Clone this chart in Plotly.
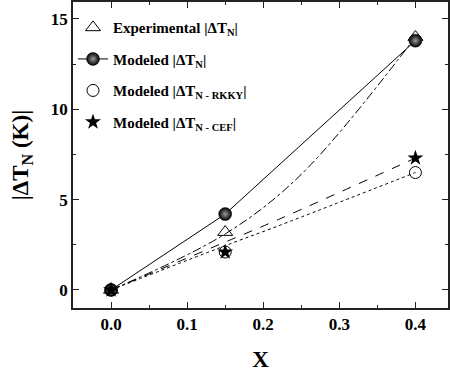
import plotly.graph_objects as go

x = [0.0, 0.15, 0.4]
exp_dtn = [0.0, 3.2, 14.0]
mod_dtn = [0.0, 4.2, 13.8]
mod_rkky = [0.0, 2.1, 6.5]
mod_cef = [0.0, 2.1, 7.3]

# fit curves
fit_exp_x = [0.0, 0.15, 0.25, 0.4]
fit_exp_y = [0.0, 3.1, 6.4, 14.0]
fit_cef_x = [0.0, 0.15, 0.22, 0.4]
fit_cef_y = [0.0, 2.65, 3.9, 7.3]
fit_rkky_x = [0.0, 0.15, 0.22, 0.4]
fit_rkky_y = [0.0, 2.45, 3.55, 6.5]

FONT = "Liberation Serif"

fig = go.Figure()

fig.add_trace(go.Scatter(x=fit_exp_x, y=fit_exp_y, mode="lines", showlegend=False,
                         line=dict(color="black", width=1, dash="dashdot", shape="spline")))
fig.add_trace(go.Scatter(x=fit_cef_x, y=fit_cef_y, mode="lines", showlegend=False,
                         line=dict(color="black", width=1, dash="dash", shape="spline")))
fig.add_trace(go.Scatter(x=fit_rkky_x, y=fit_rkky_y, mode="lines", showlegend=False,
                         line=dict(color="black", width=1, dash="dot", shape="spline")))

fig.add_trace(go.Scatter(x=x, y=exp_dtn, mode="markers", name="Experimental |ΔT<sub>N</sub>|",
                         legendgroup="a",
                         marker=dict(symbol="triangle-up-open", size=13, color="black",
                                     line=dict(width=1, color="black"))))
fig.add_trace(go.Scatter(x=x, y=mod_dtn, mode="lines+markers", name="Modeled |ΔT<sub>N</sub>|",
                         legendgroup="b",
                         line=dict(color="black", width=1),
                         marker=dict(symbol="circle", size=13, color="black",
                                     gradient=dict(type="radial", color="#9a9a9a"),
                                     line=dict(width=0.5, color="black"))))
fig.add_trace(go.Scatter(x=x, y=mod_rkky, mode="markers", name="Modeled |ΔT<sub>N - RKKY</sub>|",
                         legendgroup="c",
                         marker=dict(symbol="circle-open", size=12, color="black",
                                     line=dict(width=1, color="black"))))
fig.add_trace(go.Scatter(x=x, y=mod_cef, mode="markers", name="Modeled |ΔT<sub>N - CEF</sub>|",
                         legendgroup="d",
                         marker=dict(symbol="star", size=12, color="black",
                                     line=dict(width=0, color="black"))))

axis_common = dict(
    showgrid=False, zeroline=False, showline=True, linecolor="#222", linewidth=1.5,
    mirror="allticks", ticks="inside", ticklen=6, tickwidth=1, tickcolor="#222",
    tickfont=dict(family=FONT, size=17, color="black", weight="bold"),
)

fig.update_layout(
    width=450, height=375,
    margin=dict(l=73, r=0, t=2, b=67),
    plot_bgcolor="white", paper_bgcolor="white",
    xaxis=dict(range=[-0.05, 0.4428], tickvals=[0.0, 0.1, 0.2, 0.3, 0.4],
               ticktext=["0.0", "0.1", "0.2", "0.3", "0.4"],
               minor=dict(tickvals=[0.05, 0.15, 0.25, 0.35], ticks="inside", ticklen=3, tickcolor="#222"),
               title=dict(text="X", font=dict(family=FONT, size=23, color="black", weight="bold"), standoff=18),
               **axis_common),
    yaxis=dict(range=[-1.0, 15.94], tickvals=[0, 5, 10, 15],
               minor=dict(tickvals=[2.5, 7.5, 12.5], ticks="inside", ticklen=3, tickcolor="#222"),
               title=dict(text="|ΔT<sub>N</sub> (K)|", font=dict(family=FONT, size=23, color="black", weight="bold"), standoff=16),
               **axis_common),
    legend=dict(x=0.0, y=0.97, xanchor="left", yanchor="top", bgcolor="rgba(0,0,0,0)",
                font=dict(family=FONT, size=15, color="black", weight="bold"),
                tracegroupgap=9, itemwidth=30),
    showlegend=True,
)

fig.write_html("out.html")
